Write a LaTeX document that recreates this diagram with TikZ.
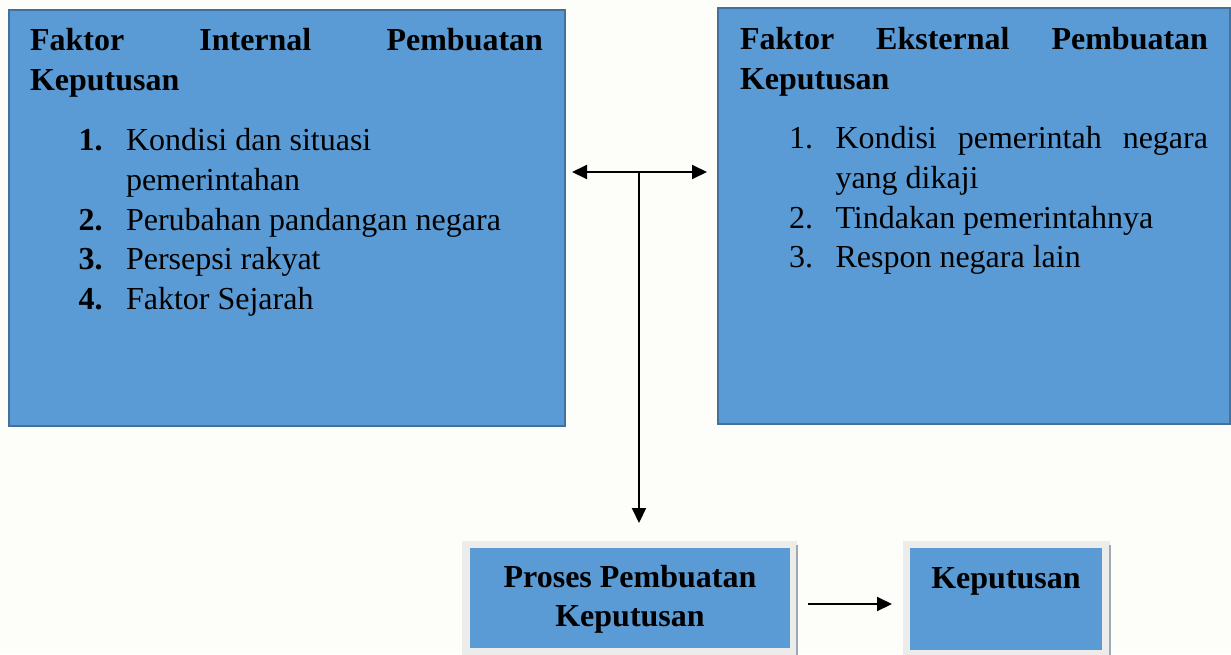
\documentclass[tikz,border=0pt]{standalone}
\usepackage{fontspec}
\setmainfont{Liberation Serif}
\usetikzlibrary{arrows.meta}
\definecolor{boxblue}{RGB}{91,155,213}
\definecolor{boxedge}{RGB}{65,113,156}
\definecolor{bgcol}{RGB}{253,253,249}
\definecolor{framegray}{RGB}{236,236,234}
\definecolor{edgegray}{RGB}{160,168,180}
\tikzset{
  bigbox/.style={draw=boxedge, line width=2pt, fill=boxblue, inner sep=0pt, outer sep=0pt, anchor=north west},
  frame/.style={fill=framegray, draw=none, inner sep=0pt, outer sep=0pt, anchor=north west},
  smallbox/.style={fill=boxblue, draw=none, inner sep=0pt, outer sep=0pt, anchor=north west},
  txt/.style={inner sep=0pt, outer sep=0pt, anchor=base west, font=\fontsize{32}{40}\selectfont},
  ctxt/.style={inner sep=0pt, outer sep=0pt, anchor=base, font=\fontsize{32}{40}\selectfont\bfseries},
  arr/.style={line width=2pt, draw=black, -{Triangle[length=15pt,width=14pt]}},
  darr/.style={line width=2pt, draw=black, {Triangle[length=15pt,width=14pt]}-{Triangle[length=15pt,width=14pt]}}
}
\begin{document}
\begin{tikzpicture}[x=1pt,y=-1pt]
\useasboundingbox (0,0) rectangle (1231,654);
\fill[bgcol] (0,0) rectangle (1231,654);

% big boxes
\node[bigbox, minimum width=556pt, minimum height=416pt] (inbox) at (8.5,9.5) {};
\node[bigbox, minimum width=512pt, minimum height=416pt] (exbox) at (718,7.5) {};

% internal text
\node[txt] (it1) at (30,50) {\bfseries\makebox[513pt][s]{Faktor\hfill Internal\hfill Pembuatan}};
\node[txt] (it2) at (30,90) {\bfseries Keputusan};
\node[txt] (in1) at (78.5,150) {\bfseries 1.};
\node[txt] (il1) at (126,150) {Kondisi dan situasi};
\node[txt] (il1b) at (126,190) {pemerintahan};
\node[txt] (in2) at (78.5,230) {\bfseries 2.};
\node[txt] (il2) at (126,230) {Perubahan pandangan negara};
\node[txt] (in3) at (78.5,269) {\bfseries 3.};
\node[txt] (il3) at (126,269) {Persepsi rakyat};
\node[txt] (in4) at (78.5,309) {\bfseries 4.};
\node[txt] (il4) at (126,309) {Faktor Sejarah};

% external text
\node[txt] (et1) at (740,49) {\bfseries\makebox[468pt][s]{Faktor\hfill Eksternal\hfill Pembuatan}};
\node[txt] (et2) at (740,89) {\bfseries Keputusan};
\node[txt] (en1) at (789,148) {1.};
\node[txt] (el1) at (835.5,148) {\makebox[372.5pt][s]{Kondisi\hfill pemerintah\hfill negara}};
\node[txt] (el1b) at (835.5,188) {yang dikaji};
\node[txt] (en2) at (789,228) {2.};
\node[txt] (el2) at (835.5,228) {Tindakan pemerintahnya};
\node[txt] (en3) at (789,267) {3.};
\node[txt] (el3) at (835.5,267) {Respon negara lain};

% bottom boxes
\node[frame, minimum width=335pt, minimum height=114pt] (proframe) at (462,541) {};
\node[smallbox, minimum width=320pt, minimum height=100pt] (pro) at (470,548) {};
\draw[edgegray, line width=1.5pt] (proframe.north east) ++(0,4) -- (proframe.south east);
\node[ctxt] (pt1) at (630,587) {Proses Pembuatan};
\node[ctxt] (pt2) at (630,626) {Keputusan};

\node[frame, minimum width=207pt, minimum height=114pt] (kepframe) at (903,541) {};
\node[smallbox, minimum width=192pt, minimum height=102pt] (kep) at (910,548) {};
\draw[edgegray, line width=1.5pt] (kepframe.north east) ++(0,4) -- (kepframe.south east);
\node[ctxt] (kt) at (1006,588) {Keputusan};

% connectors
\coordinate (hl) at (572,172);
\coordinate (hr) at (707,172);
\coordinate (junc) at (639,172);
\draw[darr] (hl) -- (hr);
\draw[arr, shorten >=18pt] (junc) -- (junc |- proframe.north);
\coordinate (ar) at (proframe.east |- 0,604);
\draw[arr, shorten <=11pt, shorten >=11pt] (ar) -- (kepframe.west |- ar);
\end{tikzpicture}
\end{document}
